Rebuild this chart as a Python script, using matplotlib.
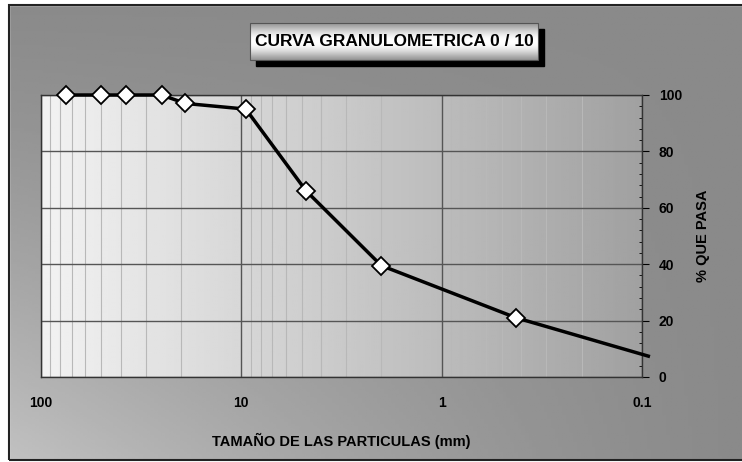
import numpy as np
import matplotlib.pyplot as plt
from matplotlib.patches import Rectangle
from matplotlib.ticker import FixedLocator, LogLocator, NullFormatter, MultipleLocator

# tamaños de tamiz (mm) y % que pasa
sizes   = [75, 50, 37.5, 25, 19, 9.5, 4.75, 2.0, 0.425]
passing = [100, 100, 100, 100, 97, 95, 66, 39.5, 21]
# extremo final de la curva (sin marcador)
end_size, end_pass = 0.093, 7.4

x_ticks  = [100, 10, 1, 0.1]
x_labels = ['100', '10', '1', '0.1']
y_ticks  = [0, 20, 40, 60, 80, 100]

title  = 'CURVA GRANULOMETRICA 0 / 10'
xlabel = 'TAMAÑO DE LAS PARTICULAS (mm)'
ylabel = '% QUE PASA'

plt.rcParams['font.family'] = ['Liberation Sans', 'DejaVu Sans']
plt.rcParams['font.weight'] = 'bold'

W, H = 742, 462
fig = plt.figure(figsize=(W / 100, H / 100), dpi=100)

# ─── fondo exterior con degradado ────────────────────────
bg = fig.add_axes([0, 0, 1, 1], zorder=-10)
bg.set_axis_off()
gx, gy = np.meshgrid(np.linspace(0, 1, 200), np.linspace(0, 1, 200))
grad = 138 + 56 * (1 - gx) ** 1.3 * gy ** 1.3
bg.imshow(grad / 255, cmap='gray', vmin=0, vmax=1, extent=[0, 1, 0, 1],
          aspect='auto', origin='upper')
bg.set_xlim(0, 1); bg.set_ylim(0, 1)
# margen blanco y marco
bg.add_patch(Rectangle((0, 0), 9 / W, 1, color='white', zorder=2))
bg.add_patch(Rectangle((0, 1 - 5 / H), 1, 5 / H, color='white', zorder=2))
bg.add_patch(Rectangle((0, 0), 1, 2 / H, color='white', zorder=2))
bg.add_patch(Rectangle((9 / W, 2 / H), 1, 1 - 7 / H, fill=False,
                       edgecolor='#222222', lw=1.5, zorder=3))

# ─── título en caja con sombra ───────────────────────────
tx0, ty0, tw, th = 250 / W, 1 - 60 / H, 288 / W, 37 / H
bg.add_patch(Rectangle((tx0 + 6 / W, ty0 - 6 / H), tw, th, color='black', zorder=4))
t = np.linspace(0, 1, 60)
box_grad = 0.5 + 0.5 * np.sin(np.pi * (0.1 + 0.8 * t)) ** 1.5
bg.imshow(box_grad[:, None], cmap='gray', vmin=0, vmax=1,
          extent=[tx0, tx0 + tw, ty0, ty0 + th], aspect='auto', zorder=5)
bg.add_patch(Rectangle((tx0, ty0), tw, th, fill=False, edgecolor='#555555',
                       lw=0.8, zorder=6))
bg.text(tx0 + tw / 2, ty0 + th / 2, title, ha='center', va='center',
        fontsize=12.5, fontweight='bold', zorder=7)
bg.set_xlim(0, 1); bg.set_ylim(0, 1)

# ─── área de gráfico ─────────────────────────────────────
ax = fig.add_axes([41 / W, 85 / H, 601 / W, 282 / H])
ax.set_xscale('log')
ax.set_xlim(100, 0.1)
ax.set_ylim(0, 100)

area = np.linspace(0.95, 0.63, 300)[None, :]
ax.imshow(area, cmap='gray', vmin=0, vmax=1, extent=[0, 1, 0, 1],
          transform=ax.transAxes, aspect='auto', zorder=0)

ax.xaxis.set_major_locator(FixedLocator(x_ticks))
ax.xaxis.set_minor_locator(LogLocator(base=10, subs=np.arange(2, 10)))
ax.xaxis.set_minor_formatter(NullFormatter())
ax.set_xticks(x_ticks)
ax.set_xticklabels(x_labels, fontsize=10, fontweight='bold')
ax.set_yticks(y_ticks)
ax.yaxis.set_minor_locator(MultipleLocator(4))
ax.yaxis.tick_right()
ax.yaxis.set_label_position('right')
for lab in ax.get_yticklabels():
    lab.set_fontsize(10); lab.set_fontweight('bold')

ax.grid(True, which='major', axis='both', color='#555555', lw=1.0, zorder=1)
ax.grid(True, which='minor', axis='x', color='#b8b8b8', lw=0.8, zorder=1)
ax.tick_params(axis='x', which='both', length=0, pad=14)
ax.tick_params(axis='y', which='major', length=5, direction='out', pad=7)
ax.tick_params(axis='y', which='minor', length=2, direction='in')
for s in ['top', 'bottom', 'left', 'right']:
    ax.spines[s].set_color('#333333')
    ax.spines[s].set_linewidth(1.0)

ax.plot(list(sizes) + [end_size], list(passing) + [end_pass],
        color='black', lw=2.5, zorder=3, clip_on=False)
ax.plot(sizes, passing, linestyle='none', marker='D', markersize=9,
        markerfacecolor='white', markeredgecolor='black', markeredgewidth=1.3,
        zorder=4, clip_on=False)

ax.set_xlabel(xlabel, fontsize=10.5, fontweight='bold', labelpad=16)
ax.set_ylabel(ylabel, fontsize=10.5, fontweight='bold', rotation=90, labelpad=10)

plt.savefig('out.png', dpi=100)
